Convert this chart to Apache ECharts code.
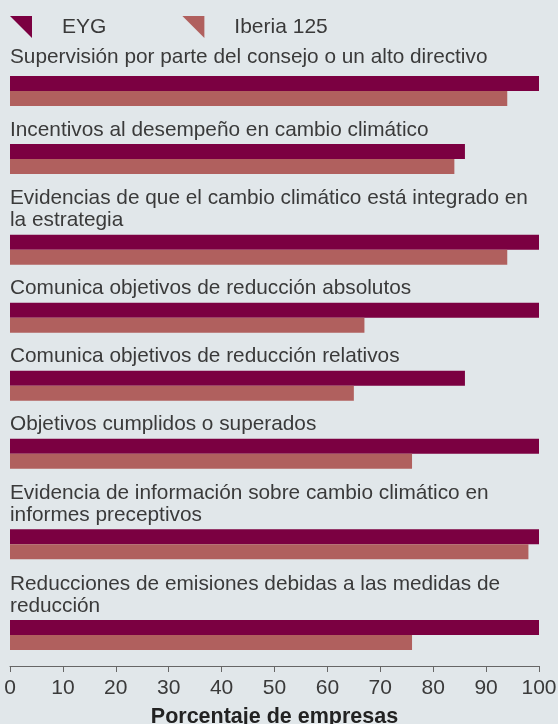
<!DOCTYPE html>
<html>
<head>
<meta charset="utf-8">
<script src="https://cdn.jsdelivr.net/npm/echarts@6/dist/echarts.min.js"></script>
<style>
  html, body { margin: 0; padding: 0; background: #e1e7ea; }
  #chart { width: 558px; height: 724px; }
</style>
</head>
<body>
<div id="chart"></div>
<script>
// line breaks kept where the original wraps
const categories = [
  'Supervisión por parte del consejo o un alto directivo',
  'Incentivos al desempeño en cambio climático',
  'Evidencias de que el cambio climático está integrado en\nla estrategia',
  'Comunica objetivos de reducción absolutos',
  'Comunica objetivos de reducción relativos',
  'Objetivos cumplidos o superados',
  'Evidencia de información sobre cambio climático en\ninformes preceptivos',
  'Reducciones de emisiones debidas a las medidas de\nreducción'
]
const eyg = [100, 86, 100, 100, 86, 100, 100, 100]
const iberia = [94, 84, 94, 67, 65, 76, 98, 76]
const seriesNames = ['EYG', 'Iberia 125']

const EYG_COLOR = '#7b0041'
const IBERIA_COLOR = '#b0605e'
const FONT = '"Liberation Sans", Arial, sans-serif'
const TEXT = '#3a3a3a'

// every group sits on one row of the y axis, with empty rows above it for the label
const rows = []
const eygRows = []
const iberiaRows = []
let blank = 0
const addBlank = () => {
  rows.push(' ' + blank++)
  eygRows.push('-')
  iberiaRows.push('-')
}
categories.forEach((name, i) => {
  const extra = name.indexOf('\n') >= 0 ? 3 : 2
  for (let k = 0; k < extra; k++) addBlank()
  rows.push(name)
  // the first label sits a little higher in the original
  eygRows.push(i === 0 ? { value: eyg[i], label: { offset: [0, -5] } } : eyg[i])
  iberiaRows.push(iberia[i])
})
addBlank()

const rowHeight = 68 / 3

const chart = echarts.init(document.getElementById('chart'))
chart.setOption({
  backgroundColor: '#e1e7ea',
  animation: false,
  textStyle: { fontFamily: FONT },
  legend: {
    data: seriesNames,
    left: 10,
    top: 16,
    padding: 0,
    icon: 'path://M0,0L10,0L10,10Z',
    itemWidth: 22,
    itemHeight: 22,
    itemGap: 76,
    textStyle: {
      fontSize: 21,
      color: TEXT,
      fontFamily: FONT,
      padding: [0, 0, 0, 25]
    }
  },
  grid: {
    left: 10,
    right: 19,
    top: 91 - 2.5 * rowHeight,
    height: rows.length * rowHeight,
    outerBoundsMode: 'none'
  },
  xAxis: {
    type: 'value',
    min: 0,
    max: 100,
    interval: 10,
    offset: -3,
    axisLine: { show: true, lineStyle: { color: '#666', width: 1 } },
    axisTick: { show: true, length: 6, lineStyle: { color: '#666' } },
    axisLabel: { fontSize: 21, color: TEXT, margin: 12, fontFamily: FONT },
    splitLine: { show: false },
    name: 'Porcentaje de empresas',
    nameLocation: 'middle',
    nameGap: 40,
    nameTextStyle: { fontSize: 21.5, fontWeight: 'bold', color: '#222', fontFamily: FONT }
  },
  yAxis: {
    type: 'category',
    inverse: true,
    data: rows,
    show: false
  },
  series: [
    {
      name: seriesNames[0],
      type: 'bar',
      data: eygRows,
      barWidth: 15,
      barGap: '0%',
      itemStyle: { color: EYG_COLOR },
      label: {
        show: true,
        formatter: '{b}',
        position: [0, -3],
        align: 'left',
        verticalAlign: 'bottom',
        fontSize: 20.8,
        lineHeight: 22,
        color: TEXT,
        fontFamily: FONT
      }
    },
    {
      name: seriesNames[1],
      type: 'bar',
      data: iberiaRows,
      barWidth: 15,
      itemStyle: { color: IBERIA_COLOR }
    }
  ]
})
</script>
</body>
</html>
